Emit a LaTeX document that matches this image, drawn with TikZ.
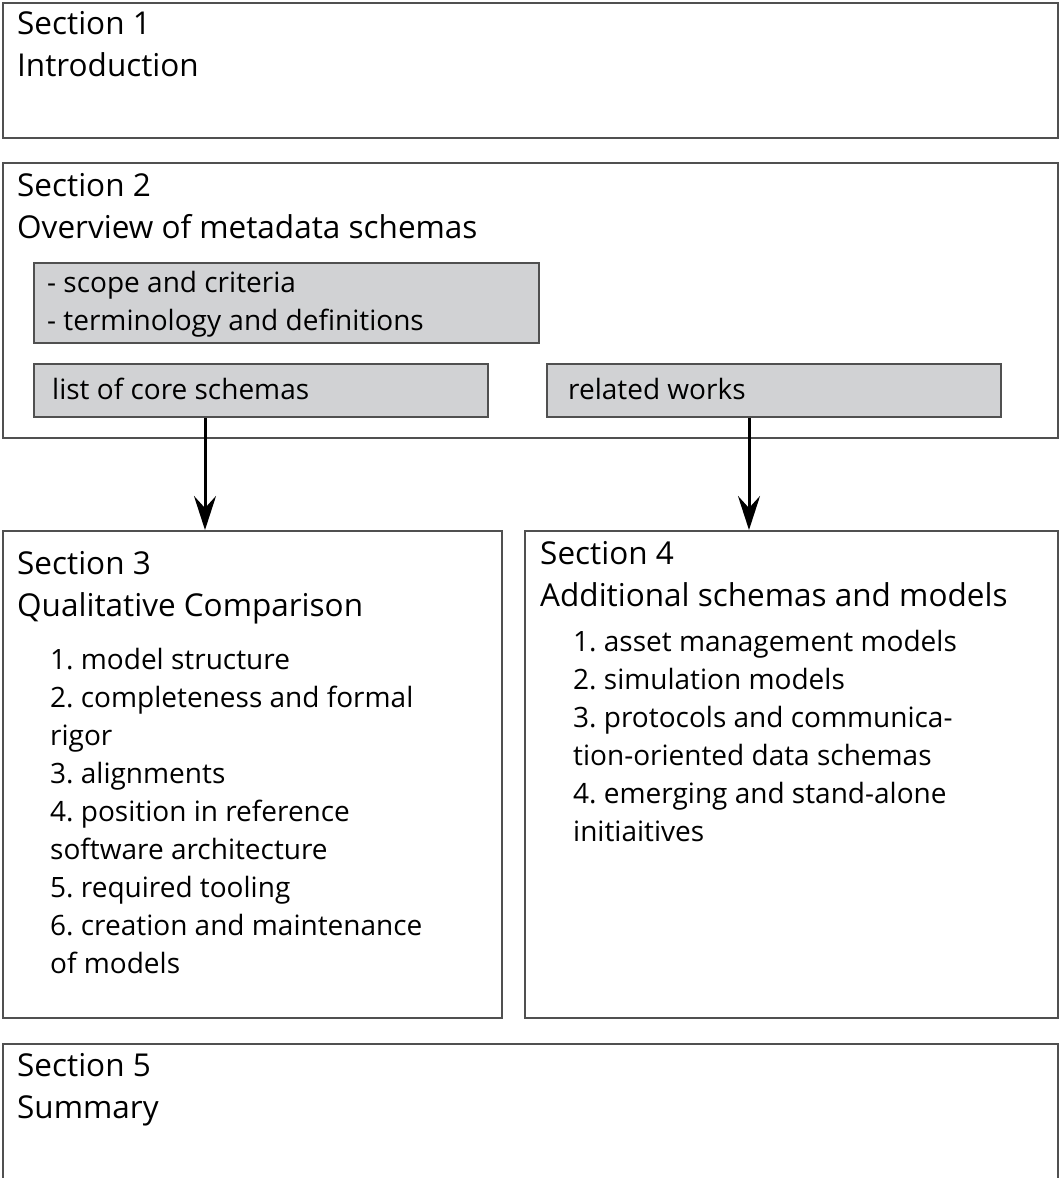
\documentclass[tikz,border=0pt]{standalone}
\usepackage{fontspec}
\setmainfont{Open Sans}
\frenchspacing
\usetikzlibrary{arrows.meta,positioning}
\definecolor{boxgray}{RGB}{209,210,212}
\definecolor{edgegray}{RGB}{80,80,80}
\tikzstyle{secbox} = [draw=edgegray, line width=2, anchor=north west, inner sep=0]
\tikzstyle{graybox} = [secbox, fill=boxgray]
\tikzstyle{headtxt} = [anchor=base west, inner sep=0, font=\fontsize{31.5}{36}\selectfont]
\tikzstyle{itemtxt} = [anchor=base west, inner sep=0, font=\fontsize{28}{32}\selectfont]
\tikzstyle{flowarrow} = [line width=3, -{Stealth[length=34pt, width=22pt, inset=12pt]}]

\begin{document}
\begin{tikzpicture}[x=1pt, y=-1pt]
  \useasboundingbox (0,0) rectangle (1059,1178);
  \clip (0,0) rectangle (1059,1178);

  % sections
  \node (sec1) [secbox, minimum width=1055, minimum height=135] at (2,2) {};
  \node (sec2) [secbox, minimum width=1055, minimum height=275] at (2,162) {};
  \node (sec3) [secbox, minimum width=499, minimum height=487] at (2,530) {};
  \node (sec4) [secbox, minimum width=533, minimum height=487] at (524,530) {};
  \node (sec5) [secbox, minimum width=1055, minimum height=200] at (2,1043) {};

  % boxes in section 2
  \node (scope) [graybox, minimum width=505, minimum height=80] at (33,262) {};
  \node (core) [graybox, minimum width=454, minimum height=53] at (33,363) {};
  \node (related) [graybox, minimum width=454, minimum height=53] at (546,363) {};

  \path (17,34) node (t1a) [headtxt] {Section 1};
  \path (17,76) node (t1b) [headtxt] {Introduction};
  \path (17,196) node (t2a) [headtxt] {Section 2};
  \path (17,238) node (t2b) [headtxt] {Overview of metadata schemas};
  \path (47,292) node (tsc1) [itemtxt] {- scope and criteria};
  \path (47,330) node (tsc2) [itemtxt] {- terminology and definitions};
  \path (52,399) node (tcore) [itemtxt] {list of core schemas};
  \path (568,399) node (trel) [itemtxt] {related works};

  \path (17,574) node (t3a) [headtxt] {Section 3};
  \path (17,616) node (t3b) [headtxt] {Qualitative Comparison};
  \foreach \t [count=\i] in {1. model structure, 2. completeness and formal,
    rigor, 3. alignments, 4. position in reference, software architecture,
    5. required tooling, 6. creation and maintenance, of models} {
    \path (50,669+38*\i-38) node (s3item\i) [itemtxt] {\t};
  }

  \path (540,564) node (t4a) [headtxt] {Section 4};
  \path (540,606) node (t4b) [headtxt] {Additional schemas and models};
  \foreach \t [count=\i] in {1. asset management models, 2. simulation models,
    3. protocols and communica-, tion-oriented data schemas,
    4. emerging and stand-alone, initiaitives} {
    \path (573,651+38*\i-38) node (s4item\i) [itemtxt] {\t};
  }

  \path (17,1076) node (t5a) [headtxt] {Section 5};
  \path (17,1118) node (t5b) [headtxt] {Summary};

  % arrows
  \draw[flowarrow] ([xshift=-56]core.south) -- ([xshift=-56]core.south |- sec3.north);
  \draw[flowarrow] ([xshift=-25]related.south) -- ([xshift=-25]related.south |- sec4.north);
\end{tikzpicture}
\end{document}
